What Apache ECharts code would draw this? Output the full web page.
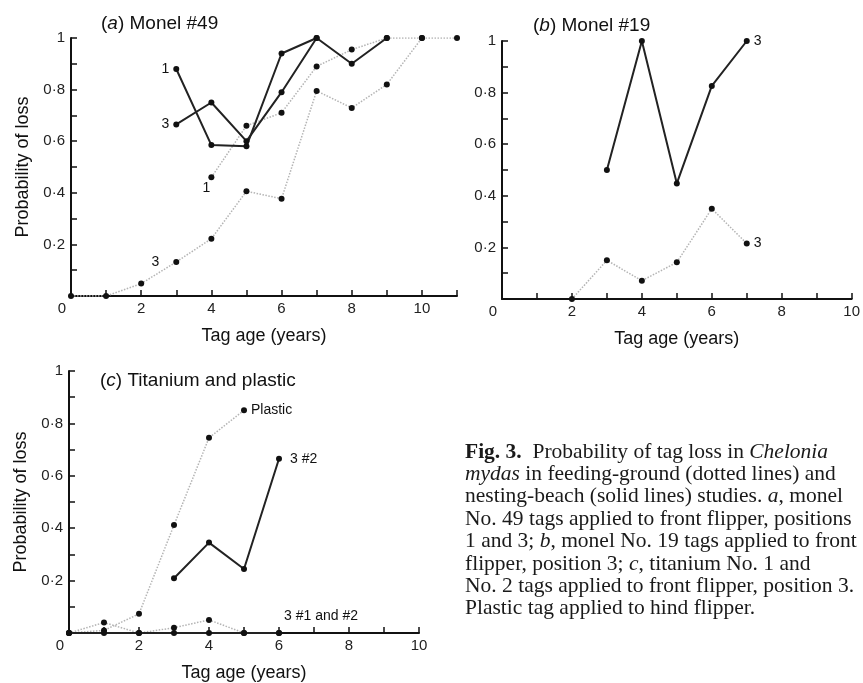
<!DOCTYPE html>
<html>
<head>
<meta charset="utf-8">
<script src="https://cdn.jsdelivr.net/npm/echarts@6/dist/echarts.min.js"></script>
<style>
  html, body { margin: 0; padding: 0; background: #fff; }
  #chart { width: 863px; height: 683px; }
</style>
</head>
<body>
<div id="chart"></div>
<script>
// panel (a) Monel #49
var a1SolidX = [3, 4, 5, 6, 7, 8, 9];
var a1SolidY = [0.88, 0.585, 0.58, 0.94, 1.0, 0.9, 1.0];
var a3SolidX = [3, 4, 5, 6, 7];
var a3SolidY = [0.665, 0.75, 0.6, 0.79, 1.0];
var a1DotX = [4, 5, 6, 7, 8, 9, 10];
var a1DotY = [0.46, 0.66, 0.71, 0.89, 0.955, 1.0, 1.0];
var a3DotX = [0, 1, 2, 3, 4, 5, 6, 7, 8, 9, 10, 11];
var a3DotY = [0, 0, 0.048, 0.132, 0.222, 0.406, 0.377, 0.795, 0.729, 0.82, 1.0, 1.0];

// panel (b) Monel #19
var bSolidX = [3, 4, 5, 6, 7];
var bSolidY = [0.5, 1.0, 0.448, 0.826, 1.0];
var bDotX = [2, 3, 4, 5, 6, 7];
var bDotY = [0, 0.15, 0.071, 0.142, 0.35, 0.215];

// panel (c) Titanium and plastic
var cPlasticX = [0, 1, 2, 3, 4, 5];
var cPlasticY = [0, 0.01, 0.073, 0.412, 0.745, 0.85];
var c2SolidX = [3, 4, 5, 6];
var c2SolidY = [0.209, 0.345, 0.244, 0.665];
var c12DotX = [0, 1, 2, 3, 4, 5, 6];
var c12DotY = [0, 0.04, 0, 0.02, 0.05, 0, 0];
var c12SolidX = [0, 1, 2, 3, 4, 5, 6];
var c12SolidY = [0, 0, 0, 0, 0, 0, 0];

var captionLines = [
  '{b|Fig. 3.}  Probability of tag loss in {i|Chelonia}',
  '{i|mydas} in feeding-ground (dotted lines) and',
  'nesting-beach (solid lines) studies. {i|a}, monel',
  'No. 49 tags applied to front flipper, positions',
  '1 and 3; {i|b}, monel No. 19 tags applied to front',
  'flipper, position 3; {i|c}, titanium No. 1 and',
  'No. 2 tags applied to front flipper, position 3.',
  'Plastic tag applied to hind flipper.'
];

var sans = '"Liberation Sans", Arial, sans-serif';
var serif = '"Liberation Serif", "Times New Roman", serif';

function pts(xs, ys) {
  return xs.map(function (x, i) { return [x, ys[i]]; });
}
function labelAt(data, idx, lab) {
  data[idx] = { value: data[idx], label: Object.assign({
    show: true, fontFamily: sans, fontSize: 14, color: '#111'
  }, lab) };
  return data;
}

function xAx(idx, max) {
  return {
    type: 'value', gridIndex: idx, min: 0, max: max, interval: 1,
    name: 'Tag age (years)', nameLocation: 'middle', nameGap: 31,
    nameTextStyle: { fontFamily: sans, fontSize: 18, color: '#111' },
    axisLine: { onZero: false, lineStyle: { color: '#111', width: 2 } },
    axisTick: { inside: true, length: 6, lineStyle: { color: '#111', width: 1.5 } },
    splitLine: { show: false },
    axisLabel: {
      margin: 5, fontFamily: sans, fontSize: 15, color: '#222',
      formatter: function (v) {
        if (v === 0) return '{z|0}';
        return v % 2 === 0 ? String(v) : '';
      },
      rich: { z: { fontFamily: sans, fontSize: 15, color: '#222', padding: [0, 18, 0, 0] } }
    }
  };
}
function yAx(idx, named) {
  return {
    type: 'value', gridIndex: idx, min: 0, max: 1, interval: 0.1,
    name: named ? 'Probability of loss' : '', nameLocation: 'middle', nameGap: 39,
    nameTextStyle: { fontFamily: sans, fontSize: 18, color: '#111' },
    axisLine: { show: true, lineStyle: { color: '#111', width: 2 } },
    axisTick: { show: true, inside: true, length: 6, lineStyle: { color: '#111', width: 1.5 } },
    splitLine: { show: false },
    axisLabel: {
      margin: 6, fontFamily: sans, fontSize: 15, color: '#222',
      formatter: function (v) {
        var k = Math.round(v * 10);
        if (k === 0) return '';
        if (k === 10) return '1';
        if (k % 2) return '';
        return '0·' + k;
      }
    }
  };
}

function solid(idx, data) {
  return {
    type: 'line', xAxisIndex: idx, yAxisIndex: idx, data: data,
    symbol: 'circle', symbolSize: 6, itemStyle: { color: '#111' },
    lineStyle: { color: '#222', width: 2 }, animation: false, z: 3
  };
}
function dotted(idx, data) {
  return {
    type: 'line', xAxisIndex: idx, yAxisIndex: idx, data: data,
    symbol: 'circle', symbolSize: 6, itemStyle: { color: '#111' },
    lineStyle: { color: '#b4b4b4', width: 1.5, type: 'dotted' }, animation: false, z: 2
  };
}

function titleRich(letter, rest, left, top) {
  return {
    text: '{p|(}{i|' + letter + '}{p|) ' + rest + '}', left: left, top: top,
    textStyle: {
      fontWeight: 'normal',
      rich: {
        p: { fontFamily: sans, fontSize: 19, fontWeight: 'normal', color: '#111' },
        i: { fontFamily: sans, fontSize: 19, fontWeight: 'normal', fontStyle: 'italic', color: '#111' }
      }
    }
  };
}

var chart = echarts.init(document.getElementById('chart'));
chart.setOption({
  backgroundColor: '#fff',
  title: [
    titleRich('a', 'Monel #49', 96, 9),
    titleRich('b', 'Monel #19', 528, 11),
    titleRich('c', 'Titanium and plastic', 95, 366)
  ],
  grid: [
    { left: 71, top: 38, width: 386, height: 258 },
    { left: 502, top: 41, width: 351, height: 258 },
    { left: 69, top: 371, width: 350, height: 263 }
  ],
  xAxis: [xAx(0, 11), xAx(1, 10), xAx(2, 10)],
  yAxis: [yAx(0, true), yAx(1, false), yAx(2, true)],
  series: [
    dotted(0, labelAt(pts(a3DotX, a3DotY), 3, { formatter: '3', position: 'left', distance: 14 })),
    dotted(0, labelAt(pts(a1DotX, a1DotY), 0, { formatter: '1', position: 'bottom', distance: 1, offset: [-5, 0] })),
    solid(0, labelAt(pts(a1SolidX, a1SolidY), 0, { formatter: '1', position: 'left', distance: 4 })),
    solid(0, labelAt(pts(a3SolidX, a3SolidY), 0, { formatter: '3', position: 'left', distance: 4 })),

    dotted(1, labelAt(pts(bDotX, bDotY), 5, { formatter: '3', position: 'right', distance: 4 })),
    solid(1, labelAt(pts(bSolidX, bSolidY), 4, { formatter: '3', position: 'right', distance: 4 })),

    dotted(2, labelAt(pts(cPlasticX, cPlasticY), 5, { formatter: 'Plastic', position: 'right', distance: 4 })),
    dotted(2, pts(c12DotX, c12DotY)),
    solid(2, labelAt(pts(c2SolidX, c2SolidY), 3, { formatter: '3 #2', position: 'right', distance: 8 })),
    solid(2, labelAt(pts(c12SolidX, c12SolidY), 6, { formatter: '3 #1 and #2', position: 'right', distance: 2, offset: [0, -17] }))
  ],
  graphic: captionLines.map(function (line, i) {
    return {
      type: 'text', left: 465, top: 441 + i * 22.4, silent: true,
      style: {
        text: line, font: '21.5px ' + serif, fill: '#1a1a1a',
        rich: {
          b: { fontFamily: serif, fontSize: 21.5, fontWeight: 'bold', fill: '#1a1a1a' },
          i: { fontFamily: serif, fontSize: 21.5, fontStyle: 'italic', fill: '#1a1a1a' }
        }
      }
    };
  })
});
</script>
</body>
</html>
